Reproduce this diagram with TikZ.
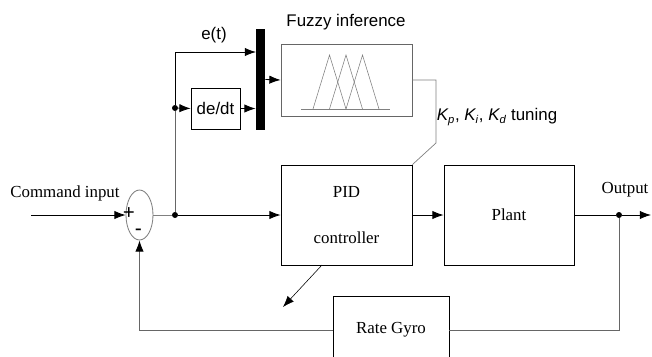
\documentclass[tikz,border=0pt]{standalone}
\usepackage{fontspec}
\setmainfont{Liberation Serif}
\setsansfont{Liberation Sans}
\usetikzlibrary{shapes.geometric,arrows.meta}

\begin{document}
\begin{tikzpicture}[x=0.25mm, y=-0.25mm, line width=0.6pt,
    block/.style={draw, rectangle, inner sep=0pt},
    arr/.style={-{Latex[length=2.8mm,width=2.1mm,black]}},
    dot/.style={circle, fill, inner sep=0pt, minimum size=1.5mm},
    sftext/.style={font=\sffamily\fontsize{12}{14}\selectfont},
    rmtext/.style={font=\fontsize{12}{14}\selectfont}]

    \clip (0,0) rectangle (652,356);

    % summing junction and input
    \node[draw, gray, ellipse, inner sep=0pt, minimum width=6.75mm, minimum height=12.5mm] (sum) at (139.5,215) {};
    \node[rmtext] (cmd) at (65,193) {Command input};
    \node[font=\bfseries\fontsize{15}{15}\selectfont, inner sep=0pt] (plus) at (129,214) {+};
    \node[font=\bfseries\fontsize{14}{14}\selectfont, inner sep=0pt] (minus) at (138.5,232) {-};
    \coordinate (in) at (31,215);
    \draw[arr] (in) -- (sum.west);

    % main blocks
    \node[block, rmtext, align=center, minimum width=32.75mm, minimum height=25mm] (pid) at (346.5,215) {PID\\[6.5mm]controller};
    \node[block, rmtext, minimum width=32.5mm, minimum height=25mm] (plant) at (509,215) {Plant};
    \node[block, rmtext, minimum width=29mm, minimum height=17mm] (gyro) at (391,330) {Rate Gyro};

    % forward path
    \node[dot] (j1) at (175,215) {};
    \node[dot] (j2) at (619,215) {};
    \coordinate (out) at (651,215);
    \draw[gray] (sum.east) -- (j1);
    \draw[arr] (j1) -- (pid.west);
    \draw[arr] (pid.east) -- (plant.west);
    \draw (plant.east) -- (j2);
    \draw[arr] (j2) -- (out);
    \node[rmtext] (outlbl) at (625,190) {Output};

    % feedback path
    \draw[gray!80!black] (j2) |- (gyro.east);
    \draw[gray!80!black, arr] (gyro.west) -| (sum.south);

    % adaptation arrow through PID
    \coordinate (adA) at (322,265);
    \coordinate (adB) at (283,307);
    \draw[arr, line width=0.4pt] (adA) -- (adB);

    % fuzzy branch
    \node[fill, inner sep=0pt, minimum width=2.25mm, minimum height=25.25mm] (mux) at (260.5,79.5) {};
    \node[block, sftext, minimum width=12.25mm, minimum height=10.25mm] (dedt) at (215.5,108.5) {de/dt};
    \node[dot] (j3) at (175,108) {};
    \coordinate (etop) at (256,52);
    \draw[gray!80!black] (j1) -- (j3);
    \draw[arr] (j3) |- (etop);
    \node[sftext] (elbl) at (214,35) {e(t)};
    \draw[arr] (j3) -- (dedt.west);
    \draw[arr] (dedt.east) -- (dedt.east -| mux.west);

    \node[draw, gray!80!black, rectangle, inner sep=0pt, minimum width=32.75mm, minimum height=18mm] (fuzzy) at (346.5,80) {};
    \node[sftext] (ftitle) at (346,22) {Fuzzy inference};
    \draw[arr] (mux.east) -- (fuzzy.west);

    % membership functions
    \draw[gray, line width=0.4pt] (301,109) -- (390,109);
    \foreach \c in {329.5,346,362.5}
        \draw[gray, line width=0.4pt] (\c-16.5,109) -- (\c,55) -- (\c+16.5,109);

    % tuning link
    \draw[gray, line width=0.5pt] (fuzzy.east) -- (436,80) -- (436,143) -- (pid.north east);
    \node[sftext] (tune) at (497,117) {{\itshape K}\textsubscript{\itshape p}, {\itshape K}\textsubscript{\itshape i}, {\itshape K}\textsubscript{\itshape d} tuning};
\end{tikzpicture}
\end{document}
